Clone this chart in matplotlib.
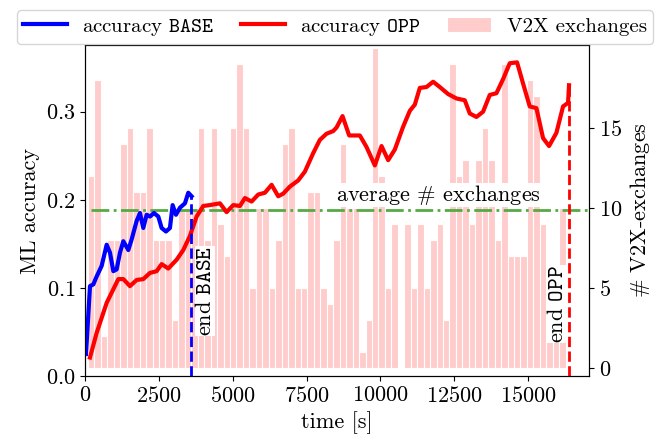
import numpy as np
import matplotlib
matplotlib.use('Agg')
import matplotlib.pyplot as plt

plt.rcParams['font.family'] = 'serif'
plt.rcParams['font.serif'] = ['cmr10']
plt.rcParams['mathtext.fontset'] = 'cm'
plt.rcParams['axes.formatter.use_mathtext'] = True
plt.rcParams['font.size'] = 16

# accuracy of the BASE run
t_base = [34, 169, 282, 395, 564, 733, 846, 959, 1071, 1184, 1297, 1466, 1579,
          1748, 1861, 1973, 2086, 2199, 2334, 2481, 2594, 2740, 2875, 2966,
          3079, 3214, 3383, 3496, 3608]
acc_base = [0.025, 0.102, 0.104, 0.113, 0.125, 0.149, 0.140, 0.119, 0.121,
            0.140, 0.153, 0.143, 0.155, 0.176, 0.185, 0.168, 0.183, 0.181,
            0.185, 0.181, 0.168, 0.164, 0.168, 0.194, 0.183, 0.191, 0.196,
            0.208, 0.204]

# accuracy of the OPP run
t_opp = [169, 395, 733, 1128, 1297, 1522, 1748, 1973, 2199, 2425, 2594, 2819,
         3102, 3327, 3552, 3778, 4003, 4229, 4567, 4793, 5018, 5244, 5413,
         5639, 5864, 6090, 6316, 6541, 6710, 6935, 7217, 7443, 7725, 7950,
         8176, 8401, 8514, 8717, 8942, 9303, 9528, 9811, 10037, 10262, 10487,
         10769, 10995, 11164, 11333, 11559, 11784, 12010, 12292, 12574, 12855,
         13024, 13250, 13475, 13701, 13927, 14152, 14378, 14625, 14828, 15054,
         15280, 15505, 15708, 15957, 16182, 16351, 16384]
acc_opp = [0.021, 0.049, 0.083, 0.110, 0.110, 0.102, 0.109, 0.110, 0.117,
           0.119, 0.127, 0.122, 0.132, 0.143, 0.159, 0.181, 0.193, 0.194,
           0.196, 0.186, 0.194, 0.193, 0.202, 0.198, 0.206, 0.208, 0.217,
           0.204, 0.207, 0.215, 0.222, 0.232, 0.253, 0.268, 0.275, 0.278,
           0.282, 0.295, 0.273, 0.273, 0.260, 0.239, 0.261, 0.245, 0.257,
           0.283, 0.301, 0.308, 0.327, 0.328, 0.334, 0.328, 0.320, 0.315,
           0.313, 0.298, 0.294, 0.300, 0.319, 0.321, 0.337, 0.355, 0.356,
           0.332, 0.306, 0.304, 0.270, 0.261, 0.276, 0.306, 0.310, 0.330]

# V2X exchanges per time bin
bin_start = 101
bin_width = 218.5
exchanges = [12, 18, 2, 8, 8, 14, 15, 11, 11, 15, 8, 8, 8, 3, 10, 10, 10, 15,
             8, 15, 9, 7, 15, 19, 15, 5, 10, 10, 5, 8, 14, 15, 5, 5, 11, 11,
             5, 4, 8, 14, 10, 10, 1, 3, 20, 12, 5, 9, 0, 9, 5, 9, 5, 8, 9, 3,
             19, 12, 13, 9, 13, 15, 13, 8, 19, 7, 7, 7, 18, 17, 9, 2, 2, 10]

t_end_base = 3586
t_end_opp = 16374
avg_exchanges = 9.9

fig = plt.figure(figsize=(6.58, 4.42), dpi=100)
ax = fig.add_axes([85 / 658, 1 - 376 / 442, 504 / 658, 331 / 442])
ax2 = ax.twinx()

x_bins = bin_start + bin_width * (np.arange(len(exchanges)) + 0.5)
bars = ax2.bar(x_bins, exchanges, width=bin_width, color='#ffcccc',
               edgecolor='white', linewidth=0.8, label='V2X exchanges')
ax2.hlines(avg_exchanges, 192, 17060, colors='#55aa44', linestyles='-.',
           linewidth=2)
ax2.text(11980, avg_exchanges + 0.15, r'average $\#$ exchanges',
         ha='center', va='bottom', fontsize=16,
         bbox=dict(facecolor='white', edgecolor='none', pad=0))
ax2.set_ylim(-0.5, 20.2)
ax2.set_yticks([0, 5, 10, 15])
ax2.set_ylabel(r'$\#$ V2X-exchanges')

ax.set_zorder(ax2.get_zorder() + 1)
ax.patch.set_visible(False)

l1, = ax.plot(t_base, acc_base, color='blue', lw=3, label=r'accuracy $\mathtt{BASE}$')
l2, = ax.plot(t_opp, acc_opp, color='red', lw=3, label=r'accuracy $\mathtt{OPP}$')
ax.vlines(t_end_base, 0, acc_base[-1], colors='blue', linestyles='--', lw=2)
ax.vlines(t_end_opp, 0, acc_opp[-1], colors='red', linestyles='--', lw=2)
ax.text(t_end_base + 130, 0.097, r'end $\mathtt{BASE}$', rotation=90,
        ha='left', va='center', bbox=dict(facecolor='white', edgecolor='none', pad=0))
ax.text(t_end_opp - 60, 0.082, r'end $\mathtt{OPP}$', rotation=90,
        ha='right', va='center', bbox=dict(facecolor='white', edgecolor='none', pad=0))

ax.set_xlim(0, 17060)
ax.set_ylim(0, 0.3757)
ax.set_xticks([0, 2500, 5000, 7500, 10000, 12500, 15000])
ax.set_yticks([0.0, 0.1, 0.2, 0.3])
ax.set_xlabel('time [s]')
ax.set_ylabel('ML accuracy')

fig.legend(handles=[l1, l2, bars], loc='upper center', ncol=3,
           bbox_to_anchor=(0.509, 1.0), fontsize=15, handlelength=2.1,
           columnspacing=1.3, borderpad=0.3, handletextpad=0.75)

fig.savefig('out.png', dpi=100)
